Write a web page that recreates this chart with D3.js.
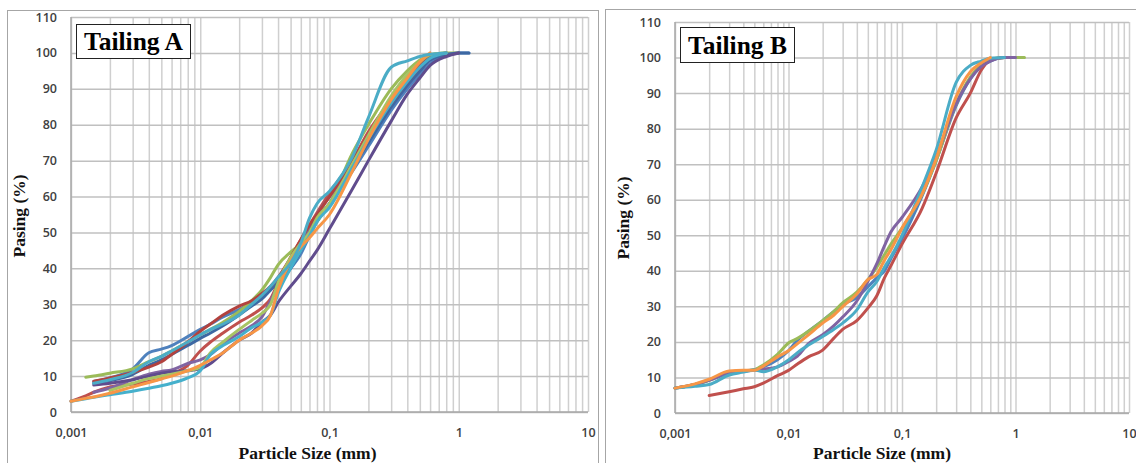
<!DOCTYPE html>
<html><head><meta charset="utf-8">
<script src="https://cdn.jsdelivr.net/npm/d3@7"></script>
<style>body{margin:0;background:#fff;} svg{display:block}</style>
</head><body><svg id="c" width="1136" height="463"></svg>
<script>
// ---------- DATA ----------
const xTicks = [0.001, 0.01, 0.1, 1, 10];
const xTickLabels = ["0,001", "0,01", "0,1", "1", "10"];
const yTicks = [0, 10, 20, 30, 40, 50, 60, 70, 80, 90, 100, 110];

// Tailing A : particle sizes (mm) and % passing per test
const sizesA = [0.001,0.0013,0.0015,0.002,0.003,0.004,0.005,0.006,0.008,0.01,0.012,0.015,0.02,0.025,0.03,0.035,0.04,0.05,0.06,0.07,0.08,0.1,0.15,0.2,0.3,0.4,0.5,0.6,0.8,1,1.2];
const A_blue       = [null,null,8.5,9.5,12,16.5,17.5,18.5,21,23,24.5,26.5,28.5,30.5,32,34,36.5,40,44,49,53,58,67,74,84,90,94,97,99.5,100,100];
const A_red        = [3,4.5,5.5,7,7.8,8.5,9.3,10.5,13,17,19.5,22,25,27,29,31.5,36,43,48,52,55.5,61,70,78,87,93,96.5,99,100,null,null];
const A_green      = [null,9.7,10,10.8,12,14,15.5,17,19.5,21.5,23,25,28,31,34,37.5,41,44.5,47,50,53,58,72,80,90,95,98,99.5,100,100,null];
const A_purple     = [null,null,5.5,6.7,9,10.5,11.3,11.7,13.5,14.5,16,19,22,24,26.5,31,35,41,46,51,55,60,69,76,85,91,95,98,99.5,100,null];
const A_aqua       = [null,null,8,9,11,14,15.5,17,19.5,21.5,23,24.5,27,30,32.5,35,37.5,41.5,47,54,58,61.5,71,82,96,97.8,99,99.6,100,null,null];
const A_darkBlue   = [null,null,8,8.7,10.5,13,14.5,16,18.5,20.5,22,24,27,29.5,31.5,34,36,40,45,50,54,58,68,75,85,91,95,98,99.5,100,100];
const A_darkRed    = [null,null,8.6,9.5,11,12.5,14,16,19.5,22.5,24.5,27,29.5,31,33,35,37.5,43,48,52,55,60,70,77,86,92,96,99,100,null,null];
const A_darkPurple = [null,null,7.5,8,9,10,10.8,11.2,11.5,12,13.5,16.5,20,22,25,27,30.5,35,38.5,42,45,51,62,70,81,88.5,93,96.5,99,100,null];
const A_lightGreen = [null,null,null,6,8,9.3,10,10.5,11.5,12.5,16.5,19.5,23,25.5,27.5,30,36,43,47,50,54,58,69,77,88,94,97.5,99.5,100,null,null];
const A_lightAqua  = [3,3.7,4.1,4.8,5.8,6.6,7.3,8,9.5,11.5,16,18.5,21,23.5,25,27,33,40,45,49,53,57,68,76,86,92,96,98.5,100,null,null];
const A_orange     = [3,3.8,4.2,5.2,7,8.2,9.2,10,11.5,13,14.5,16.5,20,22,24,27,34,42,46,48.5,51,55,67,76,87,93,97.5,100,null,null,null];

// Tailing B
const sizesB = [0.001,0.0015,0.002,0.003,0.004,0.005,0.006,0.008,0.01,0.012,0.015,0.02,0.025,0.03,0.04,0.05,0.06,0.07,0.08,0.1,0.15,0.2,0.3,0.4,0.5,0.6,0.8,1,1.2];
const B_blue   = [7,8,9.3,11.5,11.9,12.2,13,15,17.5,20.5,23,26,28.5,30.5,32.5,35.5,38,40,43.5,49,61,71,86.5,94,97.5,99,100,100,null];
const B_red    = [null,null,4.9,6,6.8,7.4,8.4,10.5,12,13.8,15.8,17.7,21,23.5,26,29.5,33,38,41.5,47.5,57.5,67.5,83,90,96.5,99.3,100,null,null];
const B_green  = [7,8,9.2,11.3,11.8,12.2,13.5,16.5,19.7,21,23,26,28.5,31,34,37.5,41,44.5,47.5,52,61.5,71,87,94.5,98,99.5,100,100,100];
const B_purple = [7,8,9.2,11.2,11.7,12,12.3,13,14.5,16,19.5,22,24.5,27,31.5,37,42,47,51,55,63.5,72,87,94,97.5,99,100,100,null];
const B_aqua   = [7,7.5,8,10.7,11.5,12.1,11.6,13,14.9,17,19.1,21.5,23.5,25.3,29,34,37,41,44,50,63.5,74,93,97.8,99,99.8,100,null,null];
const B_orange = [7,8.2,9.5,11.8,12,12,13.2,15.8,17.5,19.5,22,25.3,27.5,29.9,33.5,37.5,39,43,46,52,61.5,71.5,89,96,98.5,100,null,null,null];

// ---------- STYLES ----------
const seriesA = [
  [A_blue, "#4F81BD"], [A_red, "#C0504D"], [A_green, "#9BBB59"], [A_purple, "#8064A2"],
  [A_darkBlue, "#3D68A3"], [A_darkRed, "#B2423E"], [A_darkPurple, "#604C8D"],
  [A_lightGreen, "#A8C464"], [A_lightAqua, "#45B0CC"], [A_orange, "#F79646"], [A_aqua, "#4BACC6"]
];
const seriesB = [
  [B_blue, "#4F81BD"], [B_red, "#C0504D"], [B_green, "#9BBB59"], [B_purple, "#8064A2"],
  [B_aqua, "#4BACC6"], [B_orange, "#F79646"]
];

const svg = d3.select("#c");
const serif = "'Liberation Serif', 'Times New Roman', serif";

function panel(o) {
  const g = svg.append("g");
  g.append("rect").attr("x", o.bx).attr("y", o.by).attr("width", o.bw).attr("height", o.bh)
    .attr("fill", "#fff").attr("stroke", "#a6a6a6").attr("stroke-width", 1);

  const x = d3.scaleLog().domain([0.001, 10]).range([o.x0, o.x1]);
  const y = d3.scaleLinear().domain([0, 110]).range([o.y0, o.y1]);

  // vertical grid (minor + major)
  const vgrid = [];
  for (let e = -3; e < 1; e++) for (let m = 1; m <= 9; m++) vgrid.push(+(m * Math.pow(10, e)).toPrecision(3));
  vgrid.push(10);
  g.append("g").attr("transform", `translate(0,${o.y0})`)
    .call(d3.axisBottom(x).tickValues(vgrid).tickSize(-(o.y0 - o.y1)).tickFormat(""))
    .call(s => s.select(".domain").remove())
    .call(s => s.selectAll("line").attr("stroke", "#cfcfcf").attr("stroke-width", 1.5));

  // horizontal grid
  g.append("g").attr("transform", `translate(${o.x0},0)`)
    .call(d3.axisLeft(y).tickValues(yTicks).tickSize(-(o.x1 - o.x0)).tickFormat(""))
    .call(s => s.select(".domain").remove())
    .call(s => s.selectAll("line").attr("stroke", "#c0c0c0").attr("stroke-width", 1.5));

  // axis lines
  g.append("line").attr("x1", o.x0).attr("x2", o.x0).attr("y1", o.y1).attr("y2", o.y0)
    .attr("stroke", "#a8a8a8").attr("stroke-width", 1.5);
  g.append("line").attr("x1", o.x0).attr("x2", o.x1).attr("y1", o.y0).attr("y2", o.y0)
    .attr("stroke", "#a8a8a8").attr("stroke-width", 1.5);

  // y tick labels
  const ya = g.append("g").attr("transform", `translate(${o.x0 - 2},0)`)
    .call(d3.axisLeft(y).tickValues(yTicks).tickSize(0).tickPadding(12));
  ya.select(".domain").remove();
  ya.selectAll("text").attr("font-family", "'Open Sans', sans-serif").attr("font-size", 12.5)
    .attr("font-weight", 600).attr("fill", "#404040");

  // x tick labels
  const xa = g.append("g").attr("transform", `translate(0,${o.y0})`)
    .call(d3.axisBottom(x).tickValues(xTicks).tickSize(0).tickPadding(16)
      .tickFormat((d, i) => xTickLabels[i]));
  xa.select(".domain").remove();
  xa.selectAll("text").attr("font-family", "'Open Sans', sans-serif").attr("font-size", 12.5)
    .attr("font-weight", 600).attr("fill", "#404040");

  // curves
  const line = d3.line().defined(d => d[1] != null)
    .x(d => x(d[0])).y(d => y(d[1])).curve(d3.curveMonotoneX);
  o.series.forEach(([vals, col]) => {
    const pts = o.sizes.map((s, i) => [s, vals[i]]);
    g.append("path").attr("d", line(pts)).attr("fill", "none").attr("stroke", col)
      .attr("stroke-width", 3).attr("stroke-linejoin", "round").attr("stroke-linecap", "round");
  });

  // axis titles
  g.append("text").attr("x", (o.x0 + o.x1) / 2 + o.xtOff).attr("y", o.xtY).attr("text-anchor", "middle")
    .attr("font-family", serif).attr("font-weight", "bold").attr("font-size", 17.5).attr("fill", "#111")
    .text("Particle Size (mm)");
  g.append("text").attr("transform", `translate(${o.ytX},${o.ytY}) rotate(-90)`).attr("text-anchor", "middle")
    .attr("font-family", serif).attr("font-weight", "bold").attr("font-size", 17.5).attr("fill", "#111")
    .text("Pasing (%)");

  // title box
  g.append("rect").attr("x", o.tx).attr("y", o.ty).attr("width", o.tw).attr("height", o.th)
    .attr("fill", "#fff").attr("stroke", "#222").attr("stroke-width", 1);
  g.append("text").attr("x", o.tx + o.tw / 2).attr("y", o.ty + o.th / 2 + 8.5).attr("text-anchor", "middle")
    .attr("font-family", serif).attr("font-weight", "bold").attr("font-size", 25.5).attr("fill", "#000")
    .text(o.title);
}

panel({bx: 7.5, by: 10.5, bw: 591, bh: 470, x0: 71, x1: 588, y0: 412, y1: 17,
  sizes: sizesA, series: seriesA, title: "Tailing A", tx: 76.5, ty: 24.5, tw: 114, th: 34,
  xtY: 459, xtOff: -22, ytX: 25, ytY: 216});
panel({bx: 605.5, by: 9.5, bw: 545, bh: 470, x0: 675, x1: 1129, y0: 413, y1: 22,
  sizes: sizesB, series: seriesB, title: "Tailing B", tx: 680.5, ty: 27.5, tw: 114, th: 35,
  xtY: 459, xtOff: -20, ytX: 629, ytY: 218});
</script></body></html>
